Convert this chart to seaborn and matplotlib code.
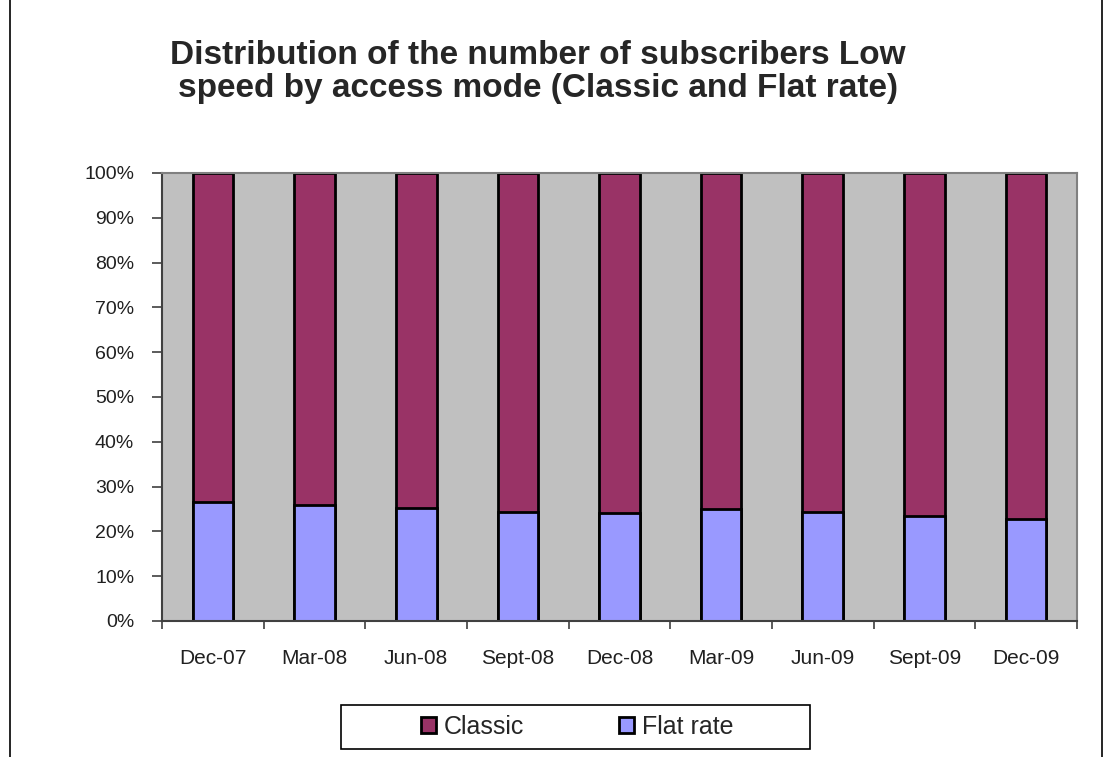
import matplotlib
matplotlib.use("Agg")
import matplotlib.pyplot as plt
import numpy as np
import pandas as pd
import seaborn as sns
from matplotlib.lines import Line2D
from matplotlib.patches import Patch, Rectangle

quarters = ["Dec-07", "Mar-08", "Jun-08", "Sept-08", "Dec-08",
            "Mar-09", "Jun-09", "Sept-09", "Dec-09"]
flat_rate = [26.6, 25.9, 25.2, 24.3, 24.1, 25.0, 24.3, 23.4, 22.8]
classic = [100 - v for v in flat_rate]

CLASSIC_COLOR = "#993366"
FLAT_COLOR = "#9999FF"

sns.set_theme(style="white")
plt.rcParams["font.family"] = ["Liberation Sans", "DejaVu Sans"]

df = pd.DataFrame({"quarter": quarters, "flat": flat_rate, "classic": classic})
df["total"] = df["flat"] + df["classic"]

fig = plt.figure(figsize=(11.12, 7.57), dpi=100)
ax = fig.add_axes([0.1457, 0.1797, 0.8228, 0.5918])
ax.set_facecolor("#C0C0C0")

# stacked bars: full height = Classic, Flat rate drawn over the bottom part
sns.barplot(data=df, x="quarter", y="total", color=CLASSIC_COLOR, width=0.4,
            saturation=1, edgecolor="black", linewidth=2, ax=ax)
sns.barplot(data=df, x="quarter", y="flat", color=FLAT_COLOR, width=0.4,
            saturation=1, edgecolor="black", linewidth=2, ax=ax)

ax.set_xlim(-0.5, len(quarters) - 0.5)
ax.set_ylim(0, 100)
ax.set_yticks(np.arange(0, 101, 10))
ax.set_yticklabels([f"{v}%" for v in range(0, 101, 10)], fontsize=14, color="#202020")
ax.set_xlabel("")
ax.set_ylabel("")
ax.tick_params(axis="x", which="major", length=0, pad=20, labelsize=15, labelcolor="#202020")
ax.set_xticks(np.arange(-0.5, len(quarters), 1), minor=True)
ax.tick_params(axis="x", which="minor", length=6, direction="out", color="#404040",
               width=1.2, bottom=True)
ax.tick_params(axis="y", length=7, direction="out", color="#404040", width=1.2, pad=13,
               left=True)

for side in ["top", "right"]:
    ax.spines[side].set_color("#808080")
    ax.spines[side].set_linewidth(1.5)
for side in ["left", "bottom"]:
    ax.spines[side].set_color("#404040")
    ax.spines[side].set_linewidth(1.5)

fig.text(0.484, 0.905, "Distribution of the number of subscribers Low\n"
         "speed by access mode (Classic and Flat rate)",
         ha="center", va="center", fontsize=24, fontweight="bold", linespacing=1.07)

# legend box below the plot
fig.add_artist(Rectangle((341 / 1112, 8 / 757), 469 / 1112, 44 / 757,
                         transform=fig.transFigure, facecolor="white",
                         edgecolor="black", linewidth=1.2))
handles = [Patch(facecolor=CLASSIC_COLOR, edgecolor="black", linewidth=2),
           Patch(facecolor=FLAT_COLOR, edgecolor="black", linewidth=2)]
fig.legend(handles, ["Classic", "Flat rate"], loc="center",
           bbox_to_anchor=(0.519, 0.0396), ncol=2, fontsize=18, frameon=False,
           handlelength=0.6, handleheight=0.6, handletextpad=0.3, columnspacing=3.8)

# chart border lines at left and right edge
fig.add_artist(Line2D([0.009, 0.009], [0, 1], color="black", lw=1.2, transform=fig.transFigure))
fig.add_artist(Line2D([0.991, 0.991], [0, 1], color="black", lw=1.2, transform=fig.transFigure))

fig.savefig("out.png", dpi=100, facecolor="white")
